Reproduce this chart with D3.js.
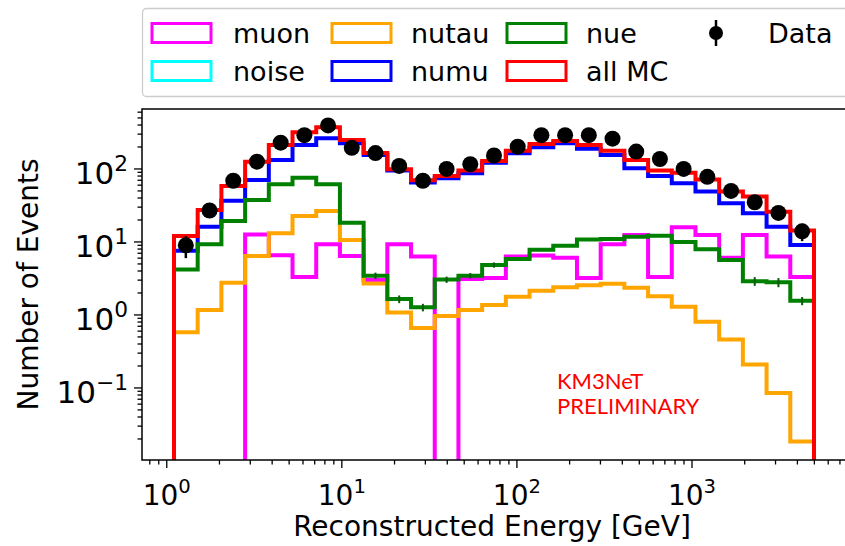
<!DOCTYPE html>
<html>
<head>
<meta charset="utf-8">
<script src="https://cdn.jsdelivr.net/npm/d3@7/dist/d3.min.js"></script>
<style>
  html, body { margin: 0; padding: 0; background: #fff; }
  svg { display: block; font-family: "DejaVu Sans", sans-serif; }
</style>
</head>
<body>
<svg id="chart" width="845" height="546"></svg>
<script>
// Reconstructed-energy bin edges [GeV] (log-spaced, 27 bins)
const binEdges = [1.1, 1.502, 2.052, 2.803, 3.828, 5.228, 7.140, 9.752, 13.32, 18.19,
  24.85, 33.94, 46.35, 63.30, 86.46, 118.1, 161.3, 220.3, 300.9, 410.9,
  561.3, 766.6, 1047, 1430, 1953, 2667, 3643, 4976];

// Events per bin for each MC component
const muon  = [0, 0, 0, 12.7, 6.6, 3.3, 9.3, 6.4, 3.0, 9.3, 6.3, 0, 3.1, 3.2, 6.3, 6.5,
  6.1, 3.2, 9.3, 12.5, 3.3, 15.9, 12.5, 6.1, 12.5, 6.3, 3.3];
const noise = [0, 0, 0, 0, 0, 0, 0, 0, 0, 0, 0, 0, 0, 0, 0, 0, 0, 0, 0, 0, 0, 0, 0, 0, 0, 0, 0];
const nutau = [0.58, 1.17, 2.77, 6.4, 13.2, 22.7, 26.6, 10.6, 2.7, 1.08, 0.66, 0.97, 1.17,
  1.37, 1.78, 2.15, 2.39, 2.55, 2.68, 2.35, 1.8, 1.3, 0.81, 0.46, 0.21, 0.085, 0.0184];
const numu  = [7.6, 16.2, 36.8, 70.7, 133, 213, 264, 225, 155, 95, 65, 74.7, 87.6, 122,
  164, 198, 225, 189, 155, 102, 80, 63.5, 49, 33.8, 24.7, 16.2, 9.1];
const nue   = [4.2, 9.3, 19.4, 37.6, 61.7, 76, 61.7, 18.4, 3.45, 1.65, 1.27, 3.05, 3.45,
  4.84, 5.85, 7.8, 8.9, 10.8, 11.0, 11.8, 12.2, 10.0, 7.95, 5.67, 2.9, 2.8, 1.56];
// MC statistical uncertainty on nue (only where it shows beyond the line)
const nueErr = [0, 0, 0, 0, 0, 0, 0, 0, 0.35, 0.2, 0.15, 0.3, 0.3, 0.4, 0, 0,
  0, 0, 0, 0, 0, 0, 0, 0, 0.4, 0.4, 0.2];
const allMC = [12.1, 27.4, 58.5, 126, 213, 318, 372, 250, 165, 99, 70, 80, 95, 129, 178,
  220, 241, 213, 178, 133, 95, 89, 72, 49, 41.8, 26, 14.3];

// Observed event counts
const data  = [9, 27, 69, 126, 229, 290, 395, 195, 165, 110, 69, 100, 116, 153, 202, 290,
  290, 290, 260, 173, 137, 100, 78, 50, 35, 25, 14];

// Axis tick labels
const xTickValues = [1, 10, 100, 1000];
const xTickExps   = ["0", "1", "2", "3"];
const yTickValues = [0.1, 1, 10, 100];
const yTickExps   = ["\u22121", "0", "1", "2"];

const series = [
  { name: "muon",   values: muon,  color: "#ff00ff" },
  { name: "noise",  values: noise, color: "#00ffff" },
  { name: "nutau",  values: nutau, color: "#ffa500" },
  { name: "numu",   values: numu,  color: "#0000ff" },
  { name: "nue",    values: nue,   color: "#008000" },
  { name: "all MC", values: allMC, color: "#ff0000" }
];

const svg = d3.select("#chart");
const plot = { left: 142, right: 846, top: 109, bottom: 460 };

// x range padded by 5% of the binned span in log space
const lo = Math.log10(binEdges[0]), hi = Math.log10(binEdges[binEdges.length - 1]);
const pad = 0.05 * (hi - lo);
const x = d3.scaleLog()
  .domain([Math.pow(10, lo - pad), Math.pow(10, hi + pad)])
  .range([plot.left, plot.right]);
const y = d3.scaleLog()
  .domain([0.0103, 663])
  .range([plot.bottom, plot.top]);

svg.append("defs").append("clipPath").attr("id", "plotClip")
  .append("rect")
  .attr("x", plot.left).attr("y", plot.top)
  .attr("width", plot.right - plot.left).attr("height", plot.bottom - plot.top);

const g = svg.append("g").attr("clip-path", "url(#plotClip)");

// Step outline: zero bins fall below the plot floor
const floorY = plot.bottom + 40;
function yv(v) { return v > 0 ? y(v) : floorY; }
function stepPath(vals) {
  const p = d3.path();
  p.moveTo(x(binEdges[0]), floorY);
  vals.forEach((v, i) => {
    p.lineTo(x(binEdges[i]), yv(v));
    p.lineTo(x(binEdges[i + 1]), yv(v));
  });
  p.lineTo(x(binEdges[binEdges.length - 1]), floorY);
  return p.toString();
}

const centers = binEdges.slice(1).map((e, i) => Math.sqrt(binEdges[i] * e));

series.forEach(s => {
  if (!s.values.some(v => v > 0)) return;
  g.append("path")
    .attr("d", stepPath(s.values))
    .attr("fill", "none")
    .attr("stroke", s.color)
    .attr("stroke-width", 4)
    .attr("stroke-linejoin", "miter");
  if (s.name === "nue") {
    nueErr.forEach((e, i) => {
      if (e <= 0) return;
      g.append("line")
        .attr("x1", x(centers[i])).attr("x2", x(centers[i]))
        .attr("y1", y(nue[i] - e)).attr("y2", y(nue[i] + e))
        .attr("stroke", "#0b5a0b").attr("stroke-width", 2);
    });
  }
});

// Data points with Poisson error bars
const dg = g.append("g");
data.forEach((d, i) => {
  const e = Math.sqrt(d);
  dg.append("line")
    .attr("x1", x(centers[i])).attr("x2", x(centers[i]))
    .attr("y1", y(d - e)).attr("y2", y(d + e))
    .attr("stroke", "#000").attr("stroke-width", 2.5);
  dg.append("circle")
    .attr("cx", x(centers[i])).attr("cy", y(d)).attr("r", 8)
    .attr("fill", "#000");
});

// Frame
svg.append("rect")
  .attr("x", plot.left).attr("y", plot.top)
  .attr("width", plot.right - plot.left).attr("height", plot.bottom - plot.top)
  .attr("fill", "none").attr("stroke", "#000").attr("stroke-width", 1.5);

// Ticks
function minorTicks(scale) {
  const [a, b] = scale.domain();
  const out = [];
  for (let d = Math.floor(Math.log10(a)); d <= Math.ceil(Math.log10(b)); d++) {
    for (let k = 2; k <= 9; k++) {
      const v = k * Math.pow(10, d);
      if (v >= a && v <= b) out.push(v);
    }
  }
  return out;
}
const tg = svg.append("g").attr("stroke", "#000").attr("stroke-width", 1.3);
minorTicks(x).forEach(v => tg.append("line")
  .attr("x1", x(v)).attr("x2", x(v)).attr("y1", plot.bottom).attr("y2", plot.bottom + 4.5));
xTickValues.forEach(v => tg.append("line")
  .attr("x1", x(v)).attr("x2", x(v)).attr("y1", plot.bottom).attr("y2", plot.bottom + 8));
minorTicks(y).forEach(v => tg.append("line")
  .attr("y1", y(v)).attr("y2", y(v)).attr("x1", plot.left).attr("x2", plot.left - 4.5));
yTickValues.forEach(v => tg.append("line")
  .attr("y1", y(v)).attr("y2", y(v)).attr("x1", plot.left).attr("x2", plot.left - 8));

function powerLabel(sel, exp, size) {
  sel.append("tspan").text("10");
  sel.append("tspan").attr("dy", -0.42 * size).attr("font-size", 0.7 * size).text(exp);
}
const xTickFont = 28, yTickFont = 31;
xTickValues.forEach((v, i) => {
  const t = svg.append("text")
    .attr("x", x(v)).attr("y", 505)
    .attr("text-anchor", "middle")
    .attr("font-size", xTickFont).attr("fill", "#000");
  powerLabel(t, xTickExps[i], xTickFont);
});
yTickValues.forEach((v, i) => {
  const t = svg.append("text")
    .attr("x", plot.left - 14).attr("y", y(v) + 15)
    .attr("text-anchor", "end")
    .attr("font-size", yTickFont).attr("fill", "#000");
  powerLabel(t, yTickExps[i], yTickFont);
});

// Axis titles
svg.append("text")
  .attr("x", (plot.left + plot.right) / 2 - 2).attr("y", 536)
  .attr("text-anchor", "middle").attr("font-size", 28).attr("fill", "#000")
  .text("Reconstructed Energy [GeV]");
svg.append("text")
  .attr("transform", `translate(37.5,${(plot.top + plot.bottom) / 2}) rotate(-90)`)
  .attr("text-anchor", "middle").attr("font-size", 28).attr("fill", "#000")
  .text("Number of Events");

// Experiment tag
const tag = svg.append("g").attr("font-family", "Lato, sans-serif")
  .attr("font-size", 22).attr("fill", "#ff0000");
tag.append("text").attr("x", 557).attr("y", 389).text("KM3NeT");
tag.append("text").attr("x", 557).attr("y", 414).text("PRELIMINARY");

// Legend
const lg = svg.append("g");
lg.append("rect")
  .attr("x", 142.5).attr("y", 8.5).attr("width", 720).attr("height", 88).attr("rx", 4)
  .attr("fill", "#fff").attr("fill-opacity", 0.85)
  .attr("stroke", "#cccccc").attr("stroke-width", 1.3);
const colX = [152, 332, 507];
const textX = [233, 411, 586];
const rowY = [33, 71];
series.forEach((s, i) => {
  const c = Math.floor(i / 2), r = i % 2;
  lg.append("rect")
    .attr("x", colX[c]).attr("y", rowY[r] - 9.5).attr("width", 59).attr("height", 19)
    .attr("fill", "none").attr("stroke", s.color).attr("stroke-width", 3);
  lg.append("text")
    .attr("x", textX[c]).attr("y", rowY[r] + 9.5)
    .attr("font-size", 27).attr("fill", "#000").text(s.name);
});
lg.append("line").attr("x1", 716).attr("x2", 716).attr("y1", 20).attr("y2", 46)
  .attr("stroke", "#000").attr("stroke-width", 2.5);
lg.append("circle").attr("cx", 716).attr("cy", 33).attr("r", 7).attr("fill", "#000");
lg.append("text").attr("x", 768).attr("y", rowY[0] + 9.5)
  .attr("font-size", 27).attr("fill", "#000").text("Data");
</script>
</body>
</html>
